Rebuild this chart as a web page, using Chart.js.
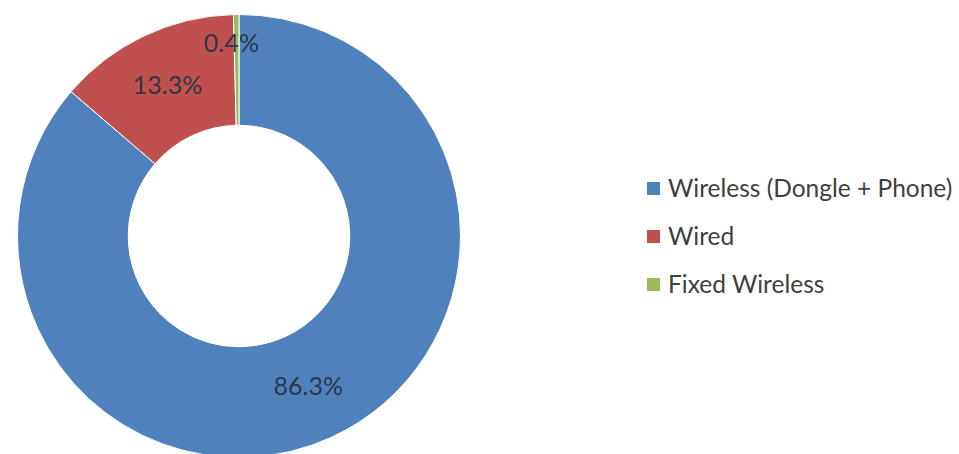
<!DOCTYPE html>
<html>
<head>
<meta charset="utf-8">
<script src="https://cdn.jsdelivr.net/npm/chart.js@4/dist/chart.umd.min.js"></script>
<style>
  html, body { margin: 0; padding: 0; background: #fff; width: 959px; height: 454px; overflow: hidden; }
  #wrap { position: absolute; left: 0; top: 0; width: 478px; height: 472px; }
  #legend { position: absolute; left: 647px; top: 0; font-family: Lato, "Liberation Sans", sans-serif; font-size: 24.5px; color: #404040; }
  .item { position: absolute; left: 0; white-space: nowrap; height: 26px; line-height: 26px; }
  .sw { position: absolute; left: 0; top: 7px; width: 13px; height: 13px; }
  .tx { position: absolute; left: 21px; top: 0; }
</style>
</head>
<body>
<div id="wrap"><canvas id="c" width="478" height="472"></canvas></div>
<div id="legend"></div>
<script>
const categories = ["Wireless (Dongle + Phone)", "Wired", "Fixed Wireless"];
const shares = [86.3, 13.3, 0.4];
const valueLabels = ["86.3%", "13.3%", "0.4%"];
const colors = ["#4F81BD", "#C0504D", "#9BBB59"];
const labelRadiusFactor = [1.0, 1.0, 1.155];

// HTML legend
const legendTops = [175, 223, 271];
const lg = document.getElementById('legend');
categories.forEach((name, i) => {
  const d = document.createElement('div');
  d.className = 'item';
  d.style.top = legendTops[i] + 'px';
  const s = document.createElement('span');
  s.className = 'sw';
  s.style.background = colors[i];
  const t = document.createElement('span');
  t.className = 'tx';
  t.textContent = name;
  d.appendChild(s); d.appendChild(t);
  lg.appendChild(d);
});

const sliceLabels = {
  id: 'sliceLabels',
  afterDatasetsDraw(chart) {
    const ctx = chart.ctx;
    const meta = chart.getDatasetMeta(0);
    ctx.save();
    ctx.font = '25px Lato, "Liberation Sans", sans-serif';
    ctx.fillStyle = '#2c3645';
    ctx.textAlign = 'center';
    ctx.textBaseline = 'middle';
    meta.data.forEach((arc, i) => {
      const p = arc.getProps(['x','y','startAngle','endAngle','innerRadius','outerRadius'], true);
      const mid = (p.startAngle + p.endAngle) / 2;
      const r = (p.innerRadius + p.outerRadius) / 2 * labelRadiusFactor[i];
      let x = p.x + Math.cos(mid) * r;
      const y = p.y + Math.sin(mid) * r;
      if (i === 2) x -= 5;
      ctx.fillText(valueLabels[i], x, y);
    });
    ctx.restore();
  }
};

new Chart(document.getElementById('c'), {
  type: 'doughnut',
  data: {
    labels: categories,
    datasets: [{
      data: shares,
      backgroundColor: colors,
      borderColor: '#ffffff',
      borderWidth: 1
    }]
  },
  options: {
    responsive: false,
    animation: false,
    cutout: '50%',
    layout: { padding: { left: 17, right: 17, top: 14, bottom: 14 } },
    plugins: {
      legend: { display: false },
      tooltip: { enabled: false }
    }
  },
  plugins: [sliceLabels]
});
</script>
</body>
</html>
